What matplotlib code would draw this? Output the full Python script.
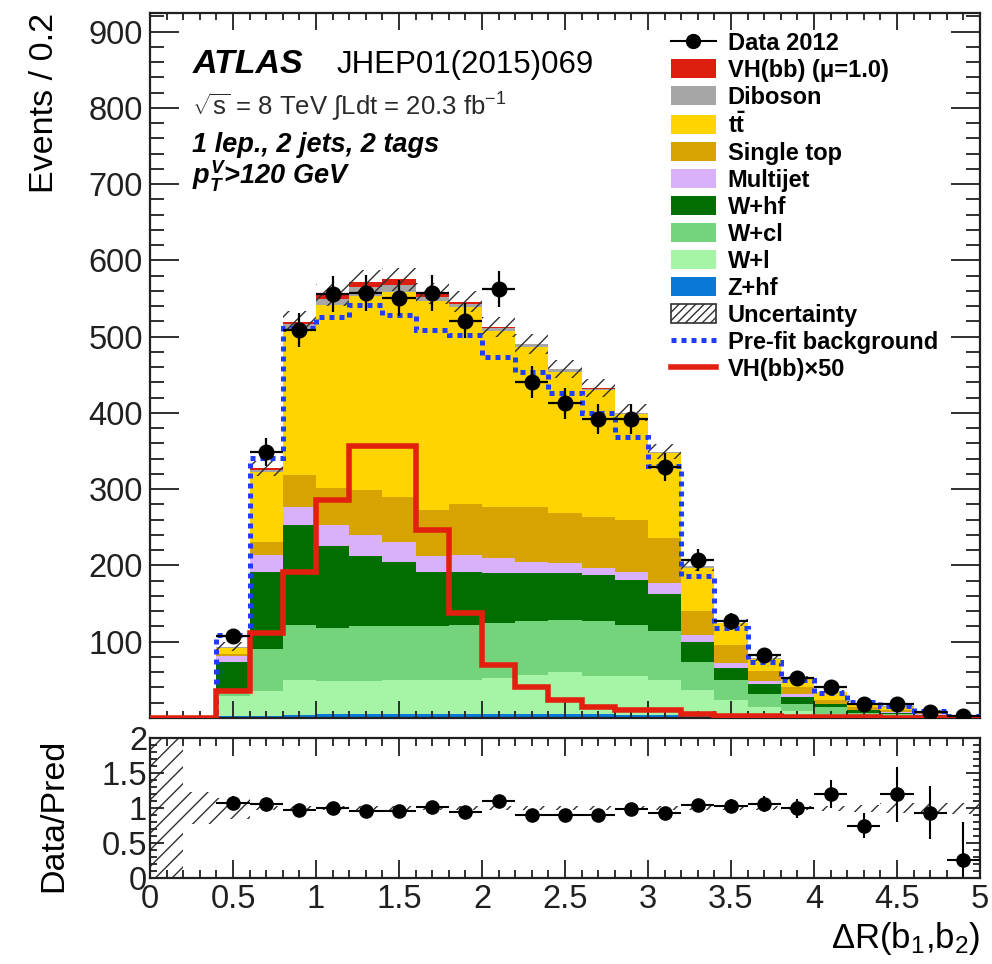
import numpy as np
import matplotlib
matplotlib.use("Agg")
import matplotlib.pyplot as plt
from matplotlib.patches import Patch
from matplotlib.lines import Line2D
from matplotlib.ticker import MultipleLocator, FuncFormatter

plt.rcParams['font.family'] = ['Liberation Sans', 'DejaVu Sans']
plt.rcParams['mathtext.fontset'] = 'custom'
plt.rcParams['mathtext.rm'] = 'Liberation Sans'
plt.rcParams['mathtext.it'] = 'Liberation Sans:bold:italic'
plt.rcParams['mathtext.bf'] = 'Liberation Sans:bold'
plt.rcParams['hatch.linewidth'] = 1.0

# ---------------- data (25 bins of 0.2 in dR(b1,b2), 0..5) ----------------
bin_edges = np.linspace(0.0, 5.0, 26)

z_hf       = [0, 0, 3, 3, 4, 5, 5, 5, 5, 5, 5, 5, 5, 5, 4, 4, 3, 2, 1.5, 1, 0.7, 0.5, 0.3, 0.2, 0.1]
w_l        = [0, 0, 26, 32, 46, 43, 44, 45, 45, 45, 48, 52, 55, 50, 51, 46, 34, 22, 13.5, 8, 4.3, 2.5, 1.7, 0.8, 0.4]
w_cl       = [0, 0, 7, 55, 72, 70, 71, 70, 70, 72, 72, 70, 69, 72, 67, 64, 37, 26, 16, 9, 9, 4, 3, 2, 0.5]
w_hf       = [0, 0, 38, 102, 131, 107, 92, 84, 72, 70, 65, 63, 61, 61, 59, 48, 26, 16, 13, 10, 4, 3, 2, 1, 0.5]
multijet   = [0, 0, 7, 22, 24, 28, 28, 27, 20, 22, 20, 15, 13, 9, 11, 15, 9, 6, 4, 3, 1, 1, 1, 1, 0.5]
single_top = [0, 0, 3, 17, 42, 48, 59, 59, 61, 66, 67, 72, 66, 67, 68, 59, 31, 24, 13, 9, 5, 3, 2, 1, 0.5]
ttbar      = [0, 0, 8, 91, 191, 240, 254, 268, 274, 259, 231, 210, 185, 166, 138, 111, 57, 28, 17, 12, 10, 6, 5, 3, 1]
diboson    = [0, 0, 1, 3, 6, 8, 12, 10, 5, 4, 3, 3, 3, 2, 2, 2, 2, 1, 0.5, 0.5, 0.3, 0.2, 0.1, 0.1, 0.1]
vh_signal  = [0, 0, 0.7, 2.2, 3.8, 5.7, 7.1, 7.1, 4.9, 2.8, 1.4, 0.8, 0.5, 0.3, 0.2, 0.2, 0.1, 0.06, 0.04, 0.03, 0.02, 0.01, 0.01, 0, 0]

vh_x50     = [0, 0, 36, 111, 192, 286, 356, 356, 247, 138, 70, 40, 24, 15, 10, 10, 5, 3, 2, 1.5, 1, 0.8, 0.5, 0.3, 0.2]
prefit_bkg = [0, 0, 109, 341, 512, 526, 541, 528, 509, 502, 473, 454, 426, 400, 369, 330, 186, 118, 74, 50, 33, 21, 16, 9, 3]
total_unc  = [0, 0, 6, 10, 14, 15, 15, 15, 14, 14, 13, 13, 12, 12, 11, 10, 7, 5, 4, 3, 2, 1.5, 1.5, 1, 0.5]

data_2012  = [107, 349, 509, 556, 557, 551, 557, 521, 563, 441, 413, 392, 392, 329, 207, 127, 82, 53, 40, 18, 18, 8, 3]

ratio_vals = [1.07, 1.06, 0.98, 1.01, 0.96, 0.96, 1.02, 0.95, 1.11, 0.90, 0.90, 0.91, 0.99, 0.94, 1.05, 1.04, 1.06, 1.00, 1.20, 0.75, 1.20, 0.94, 0.26]
ratio_errs = [0.10, 0.06, 0.045, 0.043, 0.042, 0.042, 0.043, 0.044, 0.045, 0.05, 0.05, 0.05, 0.05, 0.055, 0.07, 0.09, 0.11, 0.14, 0.20, 0.18, 0.39, 0.38, 0.55]
ratio_band = [1.0, 0.23, 0.15, 0.03, 0.03, 0.03, 0.03, 0.03, 0.03, 0.03, 0.03, 0.03, 0.03, 0.03, 0.03, 0.03, 0.03, 0.03, 0.03, 0.03, 0.04, 0.05, 0.07, 0.08, 0.08]

# stack: bottom -> top
stack = [
    ("Z+hf", z_hf, '#0a78d6'),
    ("W+l", w_l, '#a6f5a6'),
    ("W+cl", w_cl, '#74d47c'),
    ("W+hf", w_hf, '#006e00'),
    ("Multijet", multijet, '#d9b0fa'),
    ("Single top", single_top, '#d6a300'),
    (r"$\mathbf{t\bar{t}}$", ttbar, '#ffd400'),
    ("Diboson", diboson, '#a6a6a6'),
    ("VH(bb) (\u03bc=1.0)", vh_signal, '#dd1e0e'),
]

# ---------------- figure ----------------
W, H = 992, 964
fig = plt.figure(figsize=(W / 100, H / 100), dpi=100)
ax = fig.add_axes([150 / W, 1 - 718 / H, 830 / W, (718 - 13.3) / H])
rax = fig.add_axes([150 / W, 1 - 878.3 / H, 830 / W, 140 / H])

centers = 0.5 * (bin_edges[1:] + bin_edges[:-1])

base = np.zeros(len(bin_edges) - 1)
for name, vals, col in stack:
    top = base + np.asarray(vals, float)
    ax.stairs(top, bin_edges, baseline=base, fill=True, color=col, lw=0, zorder=1)
    base = top
total = base

unc = np.asarray(total_unc, float)
ax.stairs(total + unc, bin_edges, baseline=total - unc, fill=True, facecolor='none',
          edgecolor='#303030', lw=0, hatch='//', zorder=2)

ax.stairs(prefit_bkg, bin_edges, color='#1f3cff', lw=3.6, linestyle=(0, (1, 1)), zorder=3, baseline=None)
ax.stairs(vh_x50, bin_edges, color='#e32010', lw=4, zorder=3, baseline=None)

dx = centers[2:]
dy = np.asarray(data_2012, float)
ax.errorbar(dx, dy, xerr=0.1, yerr=np.sqrt(dy), fmt='o', color='black', ms=10.5,
            elinewidth=1.6, capsize=0, zorder=5)

ax.set_xlim(0, 5)
ax.set_ylim(0, 924)

# ratio panel
rb = np.asarray(ratio_band, float)
rax.stairs(1 + rb, bin_edges, baseline=1 - rb, fill=True, facecolor='none',
           edgecolor='#303030', lw=0, hatch='//', zorder=1)
rax.errorbar(dx, ratio_vals, xerr=0.1, yerr=ratio_errs, fmt='o', color='black', ms=9.5,
             elinewidth=1.5, capsize=0, zorder=5)
rax.set_xlim(0, 5)
rax.set_ylim(0, 2)

# ---------------- ticks / spines ----------------
fmt_g = FuncFormatter(lambda v, p: '%g' % v)
for a in (ax, rax):
    for s in a.spines.values():
        s.set_linewidth(1.6)
        s.set_color('#202020')
    a.tick_params(which='both', direction='in', top=True, right=True, colors='#202020',
                  width=1.3, labelsize=23.5)

ax.xaxis.set_major_locator(MultipleLocator(0.5))
ax.xaxis.set_minor_locator(MultipleLocator(0.1))
ax.yaxis.set_major_locator(MultipleLocator(100))
ax.yaxis.set_minor_locator(MultipleLocator(20))
ax.yaxis.set_major_formatter(FuncFormatter(lambda v, p: '' if v == 0 else '%d' % v))
ax.tick_params(axis='x', which='major', length=12, labelbottom=False)
ax.tick_params(axis='x', which='minor', length=5)
ax.tick_params(axis='y', which='major', length=21, pad=5)
ax.tick_params(axis='y', which='minor', length=10)

rax.xaxis.set_major_locator(MultipleLocator(0.5))
rax.xaxis.set_minor_locator(MultipleLocator(0.1))
rax.yaxis.set_major_locator(MultipleLocator(0.5))
rax.yaxis.set_minor_locator(MultipleLocator(0.1))
rax.xaxis.set_major_formatter(fmt_g)
rax.yaxis.set_major_formatter(fmt_g)
rax.tick_params(axis='x', which='major', length=13, pad=4)
rax.tick_params(axis='x', which='minor', length=6)
rax.tick_params(axis='y', which='major', length=10, pad=2)
rax.tick_params(axis='y', which='minor', length=5)

ax.set_ylabel('Events / 0.2', fontsize=24.5, loc='top')
ax.yaxis.set_label_coords(-0.108, 1.0)
rax.set_ylabel('Data/Pred', fontsize=24.5)
rax.yaxis.set_label_coords(-0.097, 0.45)
rax.set_xlabel(r'$\Delta$R(b$_{1}$,b$_{2}$)', fontsize=25, loc='right')

# ---------------- annotations ----------------
def axfrac(px, py):
    return (px - 150) / 830, (718 - py) / 704.7

x0, y0 = axfrac(193, 73)
ax.text(x0, y0, 'ATLAS', transform=ax.transAxes, fontsize=24.5, fontweight='bold',
        style='italic', va='baseline', ha='left')
x0, y0 = axfrac(337, 73)
ax.text(x0, y0, 'JHEP01(2015)069', transform=ax.transAxes, fontsize=22.5,
        va='baseline', ha='left')
x0, y0 = axfrac(192, 115)
ax.text(x0, y0, r'$\sqrt{\mathrm{s}}$ = 8 TeV $\int$Ldt = 20.3 fb$^{\mathrm{-1}}$',
        transform=ax.transAxes, fontsize=18.5, va='baseline', ha='left', color='#2a2a2a')
x0, y0 = axfrac(192, 152)
ax.text(x0, y0, '1 lep., 2 jets, 2 tags', transform=ax.transAxes, fontsize=19.5,
        fontweight='bold', style='italic', va='baseline', ha='left')
x0, y0 = axfrac(192, 185)
ax.text(x0, y0, r'$p_{T}^{V}$>120 GeV', transform=ax.transAxes, fontsize=19.5,
        fontweight='bold', style='italic', va='baseline', ha='left')

# ---------------- legend ----------------
handles = [Line2D([0], [0], marker='o', color='black', ls='-', lw=1.5, ms=10)]
labels = ['Data 2012']
for name, vals, col in reversed(stack):
    handles.append(Patch(facecolor=col, edgecolor='none'))
    labels.append(name)
handles.append(Patch(facecolor='white', edgecolor='#303030', hatch='////', lw=1.2))
labels.append('Uncertainty')
handles.append(Line2D([0], [0], color='#1f3cff', lw=3.6, ls=(0, (1, 1))))
labels.append('Pre-fit background')
handles.append(Line2D([0], [0], color='#e32010', lw=4))
labels.append('VH(bb)\u00d750')

leg = ax.legend(handles, labels, loc='upper left', bbox_to_anchor=(671 / W, 1 - 31.5 / H),
                bbox_transform=fig.transFigure, frameon=False, borderpad=0, borderaxespad=0,
                prop={'size': 17, 'weight': 'bold'}, handlelength=1.9, handleheight=0.85,
                handletextpad=0.5, labelspacing=0.17)

fig.savefig('out.png', dpi=100)
